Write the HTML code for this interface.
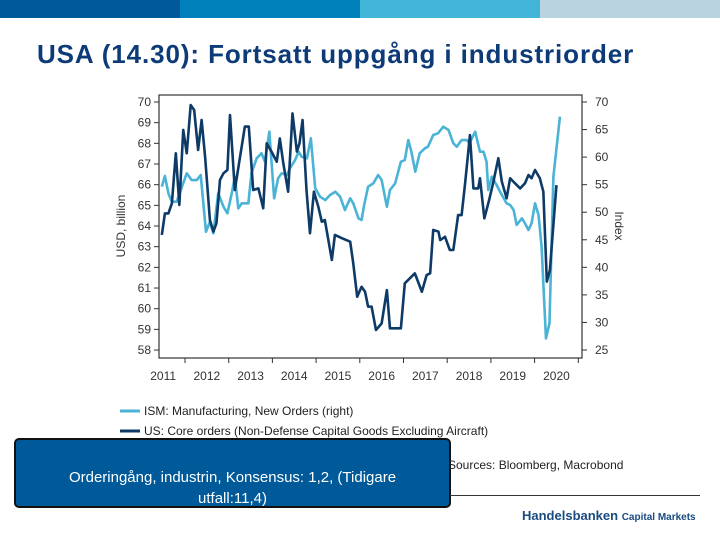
<!DOCTYPE html>
<html><head><meta charset="utf-8"><style>
body{margin:0;width:720px;height:540px;overflow:hidden;background:#fff;font-family:"Liberation Sans",sans-serif;position:relative}
.bar{position:absolute;top:0;height:18px}
</style></head><body>
<div class="bar" style="left:0;width:180px;background:#005a9a"></div>
<div class="bar" style="left:180px;width:180px;background:#0080bb"></div>
<div class="bar" style="left:360px;width:180px;background:#42b4d8"></div>
<div class="bar" style="left:540px;width:180px;background:#b9d3e0"></div>
<div style="position:absolute;left:37px;top:39px;font-size:26px;letter-spacing:0.9px;font-weight:bold;color:#0d3b78">USA (14.30): Fortsatt uppgång i industriorder</div>
<svg id="chart" width="720" height="540" style="position:absolute;left:0;top:0" font-family="Liberation Sans, sans-serif"></svg>
<div style="position:absolute;left:14px;top:438px;width:437px;height:70px;background:#005a9a;border:2px solid #111;border-radius:5px;color:#fff;font-size:15px;text-align:center;line-height:21px;padding:27px 40px 0 40px;box-sizing:border-box">Orderingång, industrin, Konsensus: 1,2, (Tidigare utfall:11,4)</div>
<div style="position:absolute;left:448px;top:458px;font-size:12px;color:#222">Sources: Bloomberg, Macrobond</div>
<div style="position:absolute;left:450px;top:495px;width:250px;height:1px;background:#333"></div>
<div style="position:absolute;left:522px;top:508px;font-size:13px;font-weight:bold;color:#1a4a80">Handelsbanken <span style="font-size:10px">Capital Markets</span></div>
<script>
const darkT=[2011.47,2011.54,2011.62,2011.70,2011.79,2011.87,2011.96,2012.04,2012.13,2012.21,2012.30,2012.38,2012.46,2012.57,2012.65,2012.72,2012.80,2012.88,2012.97,2013.03,2013.14,2013.26,2013.37,2013.46,2013.56,2013.68,2013.79,2013.87,2013.98,2014.10,2014.17,2014.25,2014.36,2014.46,2014.56,2014.62,2014.69,2014.78,2014.86,2014.95,2015.05,2015.13,2015.20,2015.36,2015.43,2015.59,2015.78,2015.85,2015.94,2016.04,2016.12,2016.19,2016.27,2016.37,2016.50,2016.62,2016.69,2016.84,2016.94,2017.03,2017.26,2017.42,2017.53,2017.61,2017.68,2017.80,2017.84,2017.95,2018.06,2018.14,2018.25,2018.33,2018.41,2018.52,2018.60,2018.71,2018.75,2018.85,2018.96,2019.05,2019.17,2019.25,2019.36,2019.44,2019.55,2019.67,2019.78,2019.86,2019.93,2020.01,2020.12,2020.20,2020.28,2020.35,2020.50];
const darkV=[63.57,64.61,64.61,65.10,67.52,65.02,68.65,67.52,69.85,69.61,67.68,69.13,67.35,64.29,63.73,64.13,66.23,66.55,66.71,69.37,65.74,67.35,68.81,68.81,65.74,65.82,64.86,68.0,67.6,67.11,68.24,67.03,65.66,69.45,67.6,68.0,69.13,65.74,63.65,65.66,64.94,64.21,64.29,62.36,63.57,63.41,63.24,62.2,60.58,61.06,60.82,60.1,60.1,58.97,59.29,60.9,59.05,59.05,59.05,61.23,61.71,60.82,61.63,61.71,63.81,63.73,63.32,63.48,62.84,62.84,64.53,64.53,66.07,68.4,65.82,65.82,66.31,64.37,65.26,66.07,67.28,66.15,65.34,66.31,66.07,65.82,66.07,66.47,66.31,66.71,66.31,65.66,61.31,61.87,65.98];
const ismT=[2011.47,2011.54,2011.62,2011.70,2011.81,2011.93,2012.04,2012.15,2012.27,2012.36,2012.48,2012.57,2012.65,2012.76,2012.88,2012.97,2013.07,2013.14,2013.22,2013.30,2013.45,2013.52,2013.64,2013.75,2013.83,2013.93,2014.04,2014.13,2014.21,2014.33,2014.40,2014.52,2014.60,2014.67,2014.79,2014.88,2014.98,2015.09,2015.21,2015.32,2015.44,2015.55,2015.66,2015.78,2015.85,2015.97,2016.04,2016.10,2016.19,2016.31,2016.42,2016.50,2016.62,2016.69,2016.81,2016.94,2017.03,2017.11,2017.18,2017.27,2017.37,2017.49,2017.56,2017.68,2017.79,2017.91,2018.03,2018.14,2018.22,2018.33,2018.45,2018.51,2018.64,2018.75,2018.83,2018.90,2018.94,2019.02,2019.13,2019.21,2019.36,2019.44,2019.52,2019.59,2019.71,2019.78,2019.86,2019.93,2020.01,2020.09,2020.16,2020.26,2020.34,2020.43,2020.58];
const ismV=[54.63,56.57,53.43,51.91,51.91,54.63,57.06,55.84,55.84,56.75,46.46,48.28,46.17,53.43,51.0,49.8,53.43,56.45,50.7,51.61,51.61,57.06,59.78,60.69,59.17,64.61,52.52,56.15,57.06,56.75,57.97,59.47,60.98,60.07,59.78,63.41,54.34,52.82,52.21,53.12,53.72,52.82,50.4,52.52,51.61,48.89,48.58,51.31,54.63,55.24,56.75,55.84,51.0,54.03,55.24,59.17,59.47,63.1,60.98,57.35,60.69,61.6,61.89,64.01,64.32,65.52,64.92,62.5,61.89,63.1,63.1,62.5,64.61,60.98,60.98,59.17,54.03,56.45,54.94,53.72,51.61,51.31,50.4,47.68,48.89,47.98,46.77,47.98,51.61,49.49,43.74,27.1,29.84,56.45,67.34];
const leftTicks=[58,59,60,61,62,63,64,65,66,67,68,69,70];
const rightTicks=[25,30,35,40,45,50,55,60,65,70];
const yearLabels=[2011,2012,2013,2014,2015,2016,2017,2018,2019,2020];
const X0=159,X1=582,Y0=95,Y1=358;
const xs=t=>185+(t-2012)*43.7;
const yl=v=>102+(70-v)*20.67;
const yr=v=>102+(70-v)*5.511;
const svg=document.getElementById('chart');const NS='http://www.w3.org/2000/svg';
function mk(tag,attrs){const e=document.createElementNS(NS,tag);for(const k in attrs)e.setAttribute(k,attrs[k]);svg.appendChild(e);return e;}
let frame=mk('rect',{x:X0,y:Y0,width:X1-X0,height:Y1-Y0,fill:'none',stroke:'#333','stroke-width':1.2});


leftTicks.forEach(v=>{const y=yl(v);
 const tk=mk('line',{x1:X0-5,x2:X0,y1:y,y2:y,stroke:'#333'});
 
 
 const t=mk('text',{x:X0-8,y:y+4,'text-anchor':'end','font-size':12,fill:'#333'});t.textContent=v;
 
 });
rightTicks.forEach(v=>{const y=yr(v);
 const tk=mk('line',{x1:X1,x2:X1+5,y1:y,y2:y,stroke:'#333'});
 
 
 const t=mk('text',{x:X1+13,y:y+4,'font-size':12,fill:'#333'});t.textContent=v;
 
 });
yearLabels.forEach(yr0=>{const x=xs(yr0+1);
 if(x<X1){const tk=mk('line',{x1:x,x2:x,y1:Y1,y2:Y1+5,stroke:'#333'});
 
 }
 const t=mk('text',{x:xs(yr0+0.5),y:Y1+22,'text-anchor':'middle','font-size':12,fill:'#333'});t.textContent=yr0;
 
 });
let lt=mk('text',{x:0,y:0,'font-size':12,fill:'#333','text-anchor':'middle',transform:'translate(125,226) rotate(-90)'});lt.textContent='USD, billion';


let rt=mk('text',{x:0,y:0,'font-size':12,fill:'#333','text-anchor':'middle',transform:'translate(615,226) rotate(90)'});rt.textContent='Index';


let p1=mk('polyline',{points:ismT.map((t,i)=>xs(t)+','+yr(ismV[i])).join(' '),fill:'none',stroke:'#4ab3d6','stroke-width':2.6,'stroke-linejoin':'round'});


let p2=mk('polyline',{points:darkT.map((t,i)=>xs(t)+','+yl(darkV[i])).join(' '),fill:'none',stroke:'#0d3a66','stroke-width':2.6,'stroke-linejoin':'round'});


let l1=mk('line',{x1:120,x2:140,y1:411,y2:411,stroke:'#4ab3d6','stroke-width':3});


let lt1=mk('text',{x:144,y:415,'font-size':12,fill:'#222'});lt1.textContent='ISM: Manufacturing, New Orders  (right)';


let l2=mk('line',{x1:120,x2:140,y1:431,y2:431,stroke:'#0d3a66','stroke-width':3});


let lt2=mk('text',{x:144,y:435,'font-size':12,fill:'#222'});lt2.textContent='US: Core orders (Non-Defense Capital Goods Excluding Aircraft)';


</script>
</body></html>
